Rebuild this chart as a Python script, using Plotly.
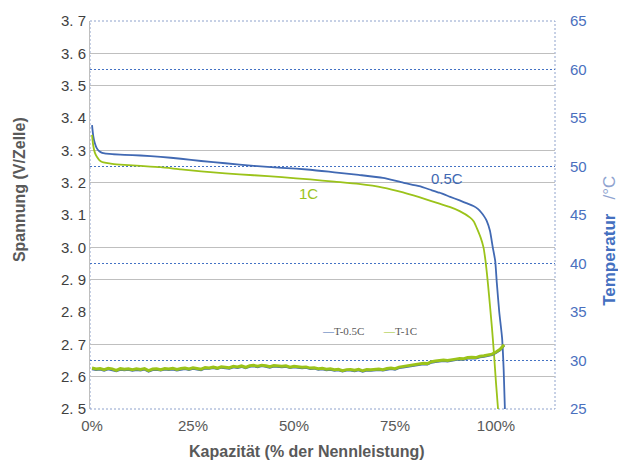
import plotly.graph_objects as go

# ---------------- data ----------------
cap_05c = [0, 0.3, 0.7, 1.2, 1.8, 2.5, 3.5, 5, 8, 12, 17, 22, 27, 33, 40, 47, 54, 60, 66, 72, 77, 81,
           84, 86, 88.5, 91, 93, 94.4, 95.5, 96.4, 97.1, 97.7, 98.5, 99.2, 99.8, 100.2, 100.8, 101.5, 101.9, 102.2]
volt_05c = [3.378, 3.345, 3.322, 3.306, 3.297, 3.292, 3.290, 3.288, 3.286, 3.284, 3.280, 3.274, 3.267, 3.260,
            3.252, 3.246, 3.240, 3.232, 3.224, 3.215, 3.200, 3.189,
            3.177, 3.169, 3.157, 3.145, 3.135, 3.128, 3.119, 3.107, 3.095, 3.082, 3.051, 3.000, 2.958, 2.890,
            2.800, 2.720, 2.620, 2.500]

cap_1c = [0, 0.3, 0.7, 1.2, 1.8, 2.5, 3.5, 5, 8, 12, 17, 22, 27, 33, 40, 47, 54, 60, 66, 72, 77, 81,
          84, 86, 88.5, 91, 93.6, 94.5, 95.2, 96.2, 96.9, 97.4, 97.7, 98.0, 98.5, 99.0, 99.5, 100.0, 100.5]
volt_1c = [3.348, 3.315, 3.293, 3.280, 3.270, 3.264, 3.261, 3.258, 3.255, 3.252, 3.248, 3.241, 3.235, 3.229,
           3.223, 3.217, 3.210, 3.203, 3.196, 3.185, 3.170, 3.155,
           3.143, 3.135, 3.125, 3.112, 3.092, 3.080, 3.061, 3.030, 3.000, 2.958, 2.925, 2.888, 2.820,
           2.750, 2.670, 2.580, 2.500]

cap_temp = list(range(0, 103))
temp_05c = [29.12, 29.04, 29.10, 28.98, 29.12, 29.04, 28.92, 29.06, 29.02, 29.06,
            28.96, 29.04, 29.00, 29.08, 28.88, 29.04, 29.06, 28.98, 29.10, 29.04,
            29.10, 29.00, 29.10, 29.14, 29.04, 29.16, 29.10, 29.02, 29.20, 29.16,
            29.24, 29.14, 29.28, 29.22, 29.18, 29.32, 29.26, 29.36, 29.22, 29.38,
            29.42, 29.34, 29.44, 29.38, 29.28, 29.40, 29.36, 29.32, 29.38, 29.24,
            29.32, 29.28, 29.22, 29.26, 29.14, 29.18, 29.08, 29.12, 29.02, 29.06,
            28.96, 29.02, 28.88, 28.98, 29.00, 28.92, 29.02, 28.86, 28.98, 28.96,
            29.00, 29.04, 28.98, 29.10, 29.14, 29.08, 29.24, 29.30, 29.36, 29.42,
            29.50, 29.56, 29.64, 29.60, 29.80, 29.86, 29.90, 29.96, 29.92, 30.02,
            30.06, 30.12, 30.10, 30.22, 30.26, 30.22, 30.36, 30.40, 30.48, 30.58,
            30.80, 31.08, 31.55]
temp_1c = [29.22, 29.12, 29.18, 29.05, 29.20, 29.14, 28.98, 29.16, 29.10, 29.15,
           29.04, 29.14, 29.08, 29.16, 28.96, 29.12, 29.15, 29.06, 29.18, 29.12,
           29.20, 29.08, 29.18, 29.22, 29.12, 29.24, 29.18, 29.10, 29.28, 29.24,
           29.32, 29.22, 29.36, 29.30, 29.26, 29.40, 29.34, 29.44, 29.30, 29.46,
           29.50, 29.42, 29.52, 29.46, 29.36, 29.48, 29.44, 29.40, 29.46, 29.32,
           29.40, 29.36, 29.30, 29.34, 29.22, 29.26, 29.16, 29.20, 29.10, 29.14,
           29.04, 29.10, 28.96, 29.06, 29.08, 29.00, 29.10, 28.94, 29.06, 29.04,
           29.08, 29.12, 29.06, 29.18, 29.22, 29.16, 29.32, 29.38, 29.44, 29.50,
           29.58, 29.64, 29.72, 29.68, 29.88, 29.94, 29.98, 30.04, 30.00, 30.10,
           30.14, 30.20, 30.18, 30.30, 30.34, 30.30, 30.44, 30.48, 30.56, 30.66,
           30.88, 31.15, 31.62]

x_tickvals = [0, 25, 50, 75, 100]
x_ticktext = ["0%", "25%", "50%", "75%", "100%"]
y_tickvals = [2.5, 2.6, 2.7, 2.8, 2.9, 3.0, 3.1, 3.2, 3.3, 3.4, 3.5, 3.6, 3.7]
y_ticktext = ["2.\u00a05", "2.\u00a06", "2.\u00a07", "2.\u00a08", "2.\u00a09", "3.\u00a00", "3.\u00a01",
              "3.\u00a02", "3.\u00a03", "3.\u00a04", "3.\u00a05", "3.\u00a06", "3.\u00a07"]
y_solid_grid = [2.6, 2.7, 2.9, 3.0, 3.2, 3.3, 3.5, 3.6]
y_dotted_grid = [2.8, 3.1, 3.4]
y2_tickvals = [25, 30, 35, 40, 45, 50, 55, 60, 65]
y2_blue_grid = [30, 40, 50, 60]

BLUE = "#4169B3"
GREEN = "#9BC31A"
GRAY = "#595959"
FONT = "Liberation Sans, Arial, sans-serif"
DOT = "2px,2px"

fig = go.Figure()
fig.add_trace(go.Scatter(x=cap_temp, y=temp_05c, mode="lines", line=dict(color=BLUE, width=2.4),
                         yaxis="y2", showlegend=False))
fig.add_trace(go.Scatter(x=cap_temp, y=temp_1c, mode="lines", line=dict(color=GREEN, width=3),
                         yaxis="y2", showlegend=False))
fig.add_trace(go.Scatter(x=cap_05c, y=volt_05c, mode="lines",
                         line=dict(color=BLUE, width=1.8, shape="spline", smoothing=0.5),
                         showlegend=False))
fig.add_trace(go.Scatter(x=cap_1c, y=volt_1c, mode="lines",
                         line=dict(color=GREEN, width=1.8, shape="spline", smoothing=0.5),
                         showlegend=False))

fig.update_layout(
    width=618, height=464,
    margin=dict(l=90, r=63, t=19, b=55),
    paper_bgcolor="white", plot_bgcolor="white",
    font=dict(family=FONT, color=GRAY),
    xaxis=dict(range=[-0.5, 114.6], tickvals=x_tickvals, ticktext=x_ticktext, showgrid=False,
               zeroline=False, showline=False, ticks="", ticklabelstandoff=6,
               tickfont=dict(size=15, color=GRAY)),
    yaxis=dict(range=[2.5, 3.7], tickvals=y_tickvals, ticktext=y_ticktext, showgrid=False,
               minor=dict(tickvals=y_solid_grid, showgrid=True, gridcolor="#bfbfbf", gridwidth=1, ticks=""),
               zeroline=False, showline=True, linecolor="#bfbfbf",
               linewidth=1, ticks="", tickfont=dict(size=15, color="#404040")),
    yaxis2=dict(range=[25, 65], tickvals=y2_tickvals, overlaying="y", side="right", showgrid=False,
                minor=dict(tickvals=y2_blue_grid, showgrid=True, gridcolor="#4472C4", griddash=DOT,
                           gridwidth=1, ticks=""),
                zeroline=False, showline=False,
                ticks="", ticklabelstandoff=14, tickfont=dict(size=15, color="#4A70BE")),
    yaxis3=dict(range=[2.5, 3.7], tickvals=y_dotted_grid, overlaying="y", side="left",
                showticklabels=False, showgrid=True, gridcolor="#a6a6a6", griddash=DOT, gridwidth=1,
                zeroline=False, showline=False, ticks=""),
    shapes=[dict(type="rect", xref="paper", yref="paper", x0=0, y0=0, x1=1, y1=1,
                 line=dict(color="#8EA2CC", width=1, dash=DOT), layer="below")],
    annotations=[
        dict(text="<b>Spannung (V/Zelle)</b>", xref="paper", yref="paper", x=-0.1527, y=0.5667,
             xanchor="center", yanchor="middle", textangle=-90, showarrow=False,
             font=dict(size=16, color=GRAY)),
        dict(text="<b>Temperatur</b>&nbsp;&nbsp;&nbsp;<span style='color:#8FA3CF'>/°C</span>",
             xref="paper", yref="paper",
             x=1.118, y=0.433, xanchor="center", yanchor="middle", textangle=-90, showarrow=False,
             font=dict(size=17, color="#4470C0")),
        dict(text="<b>Kapazität (% der Nennleistung)</b>", xref="paper", yref="paper", x=0.4677, y=-0.110,
             xanchor="center", yanchor="middle", showarrow=False, font=dict(size=16, color=GRAY)),
        dict(text="0.5C", x=87.9, y=3.214, xref="x", yref="y", showarrow=False,
             font=dict(size=15, color=BLUE)),
        dict(text="1C", x=53.5, y=3.168, xref="x", yref="y", showarrow=False,
             font=dict(size=15, color=GREEN)),
        dict(text="<span style='color:%s'>—</span>T-0.5C" % BLUE, xref="paper", yref="paper",
             x=0.4946, y=0.2, xanchor="left", yanchor="middle", showarrow=False,
             font=dict(family="Liberation Serif, serif", size=11, color=GRAY)),
        dict(text="<span style='color:%s'>—</span>T-1C" % GREEN, xref="paper", yref="paper",
             x=0.626, y=0.2, xanchor="left", yanchor="middle", showarrow=False,
             font=dict(family="Liberation Serif, serif", size=11, color=GRAY)),
    ],
)

fig.write_html("out.html")
